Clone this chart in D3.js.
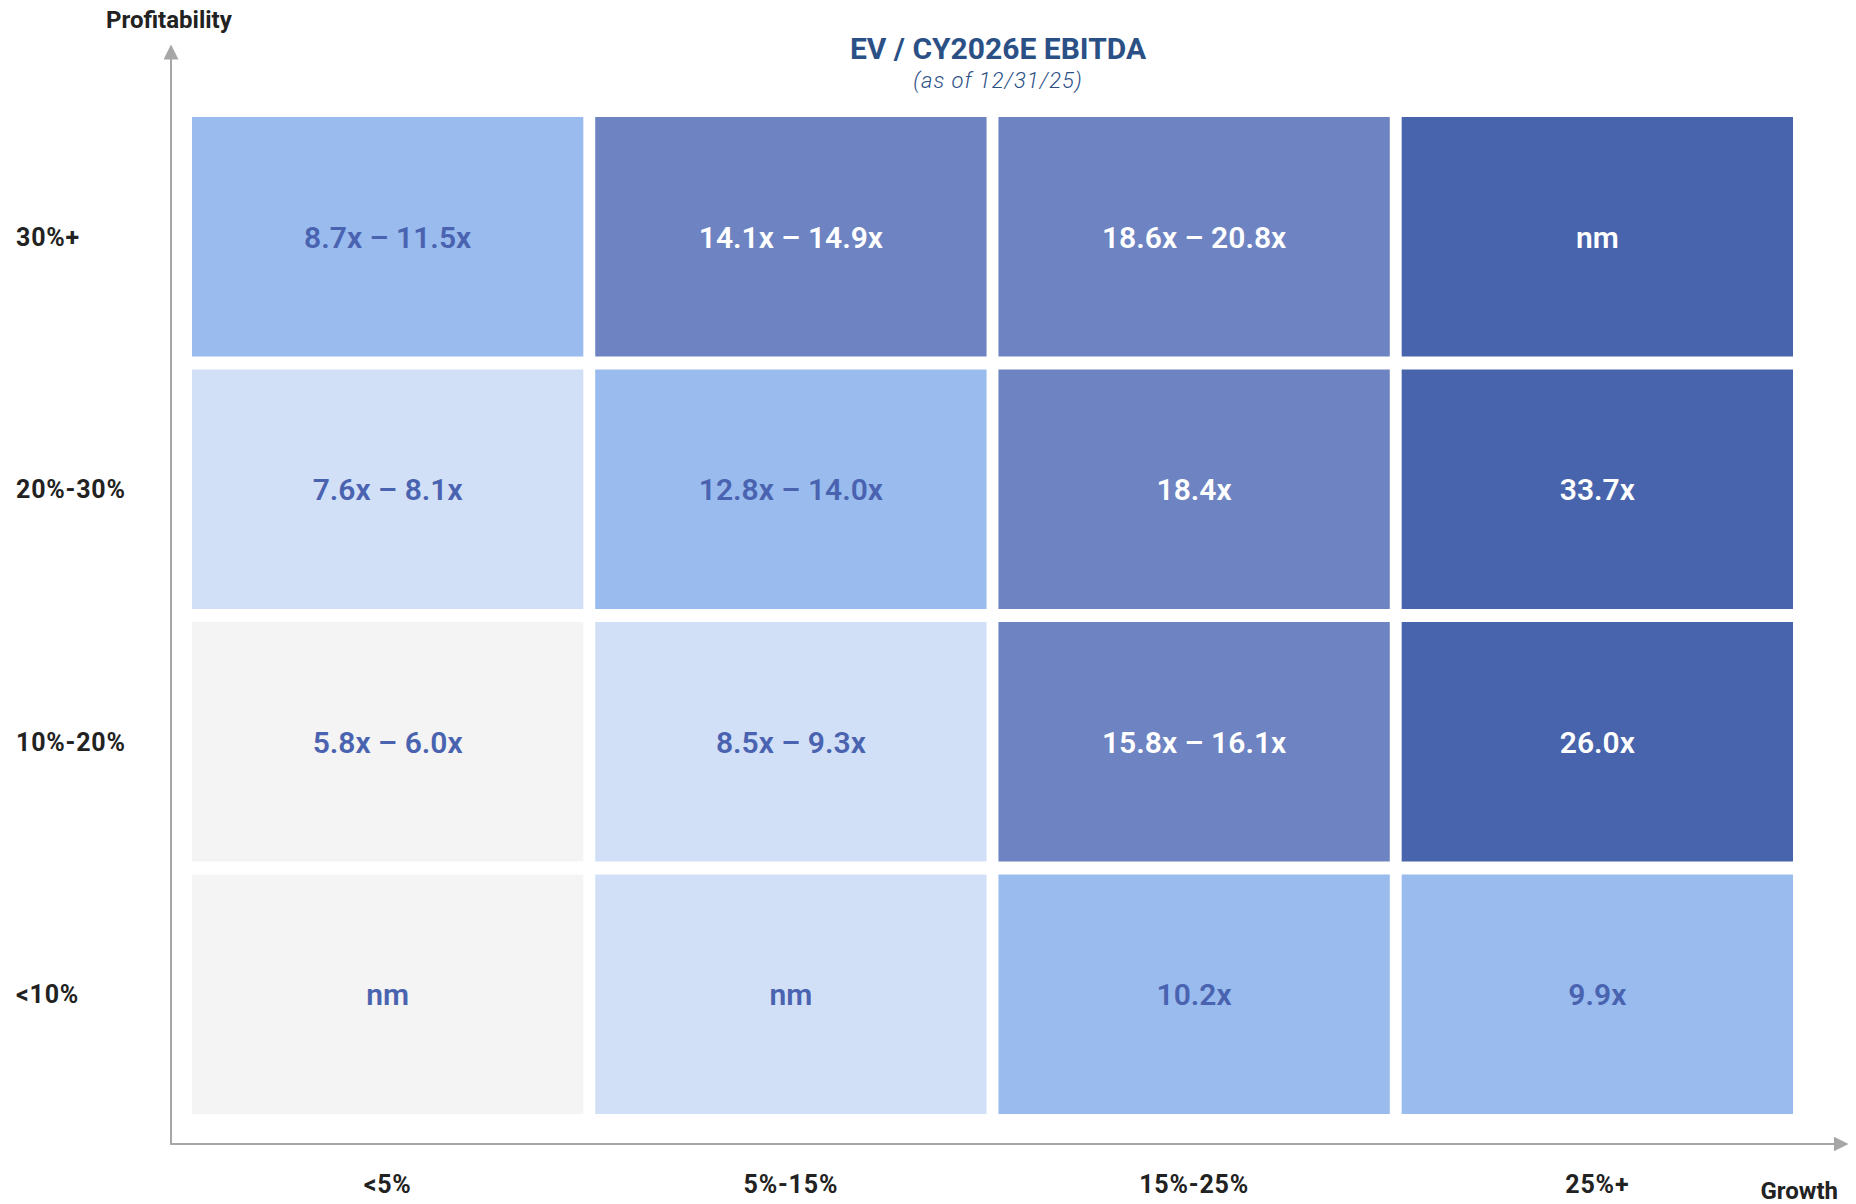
<!DOCTYPE html>
<html>
<head>
<meta charset="utf-8">
<script src="https://cdn.jsdelivr.net/npm/d3@7"></script>
<style>
  html, body { margin: 0; padding: 0; background: #ffffff; }
  svg { display: block; font-family: "Roboto", "Noto Sans", sans-serif; }
</style>
</head>
<body>
<svg id="chart" width="1856" height="1204"></svg>
<script>
// Growth buckets (columns) and profitability buckets (rows, top to bottom)
const growthBuckets = ["<5%", "5%-15%", "15%-25%", "25%+"];
const profitBuckets = ["30%+", "20%-30%", "10%-20%", "<10%"];

// EV / CY2026E EBITDA multiple ranges, one row per profitability bucket
const multiples = [
  ["8.7x \u2013 11.5x", "14.1x \u2013 14.9x", "18.6x \u2013 20.8x", "nm"],
  ["7.6x \u2013 8.1x", "12.8x \u2013 14.0x", "18.4x", "33.7x"],
  ["5.8x \u2013 6.0x", "8.5x \u2013 9.3x", "15.8x \u2013 16.1x", "26.0x"],
  ["nm", "nm", "10.2x", "9.9x"]
];

// Valuation tier of each cell (0 = lowest, 4 = highest)
const tiers = [
  [2, 3, 3, 4],
  [1, 2, 3, 4],
  [0, 1, 3, 4],
  [0, 1, 2, 2]
];

const tierFill = ["#f4f4f4", "#d2e0f7", "#99bbee", "#6e84c2", "#4864ad"];
const tierText = ["#4a63b0", "#4a63b0", "#4a63b0", "#ffffff", "#ffffff"];

const svg = d3.select("#chart");

const x = d3.scaleBand().domain(growthBuckets).range([192, 1793]).paddingInner(0.0295);
const y = d3.scaleBand().domain(profitBuckets).range([117, 1114]).paddingInner(0.0515);

// Axis arrows
const axisColor = "#a6a6a6";
const defs = svg.append("defs");
defs.append("marker")
  .attr("id", "arrow")
  .attr("viewBox", "0 0 10 10")
  .attr("refX", 9).attr("refY", 5)
  .attr("markerWidth", 7.5).attr("markerHeight", 7.5)
  .attr("markerUnits", "strokeWidth")
  .attr("orient", "auto")
  .append("path")
  .attr("d", "M0,0 L10,5 L0,10 Z")
  .attr("fill", axisColor);

const originX = 171, originY = 1144;
svg.append("line")
  .attr("x1", originX).attr("y1", originY)
  .attr("x2", originX).attr("y2", 46)
  .attr("stroke", axisColor).attr("stroke-width", 2)
  .attr("marker-end", "url(#arrow)");
svg.append("line")
  .attr("x1", originX - 1).attr("y1", originY)
  .attr("x2", 1847).attr("y2", originY)
  .attr("stroke", axisColor).attr("stroke-width", 2)
  .attr("marker-end", "url(#arrow)");

// Cells
const cells = [];
profitBuckets.forEach((p, r) => {
  growthBuckets.forEach((g, c) => {
    cells.push({ p, g, label: multiples[r][c], tier: tiers[r][c] });
  });
});

const cell = svg.append("g").selectAll("g")
  .data(cells)
  .join("g");

cell.append("rect")
  .attr("x", d => x(d.g))
  .attr("y", d => y(d.p))
  .attr("width", x.bandwidth())
  .attr("height", y.bandwidth())
  .attr("fill", d => tierFill[d.tier]);

cell.append("text")
  .attr("x", d => x(d.g) + x.bandwidth() / 2)
  .attr("y", d => y(d.p) + y.bandwidth() / 2 + 11)
  .attr("text-anchor", "middle")
  .attr("font-size", 30)
  .attr("font-weight", 600)
  .attr("fill", d => tierText[d.tier])
  .text(d => d.label);

// Row labels
svg.append("g").selectAll("text")
  .data(profitBuckets)
  .join("text")
  .attr("x", 16)
  .attr("y", d => y(d) + y.bandwidth() / 2 + 9)
  .attr("font-size", 25)
  .attr("font-weight", 700)
  .attr("letter-spacing", 0.8)
  .attr("fill", "#222222")
  .text(d => d);

// Column labels
svg.append("g").selectAll("text")
  .data(growthBuckets)
  .join("text")
  .attr("x", d => x(d) + x.bandwidth() / 2)
  .attr("y", 1193)
  .attr("text-anchor", "middle")
  .attr("font-size", 25)
  .attr("font-weight", 700)
  .attr("letter-spacing", 0.8)
  .attr("fill", "#222222")
  .text(d => d);

// Axis titles
svg.append("text")
  .attr("x", 106).attr("y", 28)
  .attr("font-size", 24).attr("font-weight", 700)
  .attr("fill", "#222222")
  .text("Profitability");
svg.append("text")
  .attr("x", 1838).attr("y", 1199)
  .attr("text-anchor", "end")
  .attr("font-size", 24).attr("font-weight", 700)
  .attr("fill", "#222222")
  .text("Growth");

// Title
svg.append("text")
  .attr("x", 998).attr("y", 59)
  .attr("text-anchor", "middle")
  .attr("font-size", 30).attr("font-weight", 700)
  .attr("fill", "#2b5086")
  .text("EV / CY2026E EBITDA");
svg.append("text")
  .attr("x", 998).attr("y", 88)
  .attr("text-anchor", "middle")
  .attr("font-size", 22).attr("font-weight", 300).attr("font-style", "italic")
  .attr("letter-spacing", 1)
  .attr("fill", "#2b5086")
  .text("(as of 12/31/25)");
</script>
</body>
</html>
